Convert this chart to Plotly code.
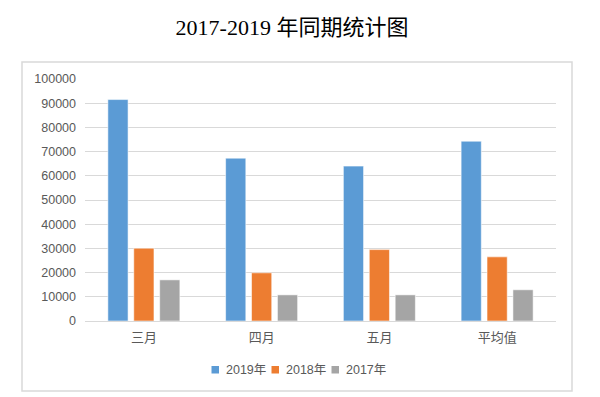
import plotly.graph_objects as go

categories = ["三月", "四月", "五月", "平均值"]
series_names = ["2019年", "2018年", "2017年"]
values_2019 = [91500, 67300, 64000, 74300]
values_2018 = [30100, 19900, 29500, 26500]
values_2017 = [17000, 10800, 10800, 12900]
colors = ["#5B9BD5", "#ED7D31", "#A5A5A5"]
y_ticks = list(range(0, 100001, 10000))

# the page body has an 8px margin; work in screen pixels and shift
OFF = 8
W, H = 600 - OFF, 397 - OFF
ml, mr, mt, mb = 85 - OFF, 44, 79 - OFF, 76
pw, ph = W - ml - mr, H - mt - mb


def px_x(sx):
    return (sx - OFF - ml) / pw


def px_y(sy):
    return (H - mb - (sy - OFF)) / ph


fig = go.Figure()
for name, vals, col in zip(series_names, [values_2019, values_2018, values_2017], colors):
    fig.add_trace(go.Bar(
        x=categories, y=vals, name=name,
        marker=dict(color=col, line=dict(color="rgba(255,255,255,0.55)", width=1)),
    ))

shapes = [dict(
    type="rect", xref="paper", yref="paper",
    x0=px_x(22), x1=px_x(572), y0=px_y(391), y1=px_y(62),
    line=dict(color="#D9D9D9", width=1.5), fillcolor="rgba(0,0,0,0)", layer="below",
)]
annotations = []
for i, (name, col) in enumerate(zip(series_names, colors)):
    sx = 211.5 + 60 * i
    shapes.append(dict(
        type="rect", xref="paper", yref="paper",
        x0=px_x(sx), x1=px_x(sx + 7.5), y0=px_y(373.5), y1=px_y(366),
        line=dict(width=0), fillcolor=col,
    ))
    annotations.append(dict(
        text=name, xref="paper", yref="paper", x=px_x(sx + 12), y=px_y(370),
        xanchor="left", yanchor="middle", showarrow=False,
        font=dict(family="Liberation Sans, Noto Sans CJK SC", size=12.5, color="#595959"),
    ))

fig.update_layout(
    width=W, height=H,
    margin=dict(l=ml, r=mr, t=mt, b=mb, autoexpand=False),
    paper_bgcolor="white", plot_bgcolor="white",
    barmode="group", bargap=0.34, bargroupgap=0.22,
    font=dict(family="Liberation Sans, Noto Sans CJK SC", size=12.5, color="#595959"),
    title=dict(
        text="2017-2019 年同期统计图",
        x=(292 - OFF) / W, xref="container", xanchor="center",
        y=1 - (27.5 - OFF) / H, yref="container", yanchor="middle",
        font=dict(family="Liberation Serif, Noto Sans CJK SC", size=22, color="#000000"),
    ),
    showlegend=False,
    xaxis=dict(
        showline=False, ticks="", showgrid=False, automargin=False,
        ticklabelstandoff=7,
        tickfont=dict(family="Noto Sans CJK SC", size=13, color="#595959"),
    ),
    yaxis=dict(
        range=[0, 100000], tickvals=y_ticks, ticktext=[str(v) for v in y_ticks],
        showgrid=True, gridcolor="#D9D9D9", gridwidth=1,
        zeroline=True, zerolinecolor="#D9D9D9", zerolinewidth=1,
        showline=False, ticks="", ticklabelstandoff=8, automargin=False,
    ),
    shapes=shapes,
    annotations=annotations,
)

fig.write_html("out.html")
